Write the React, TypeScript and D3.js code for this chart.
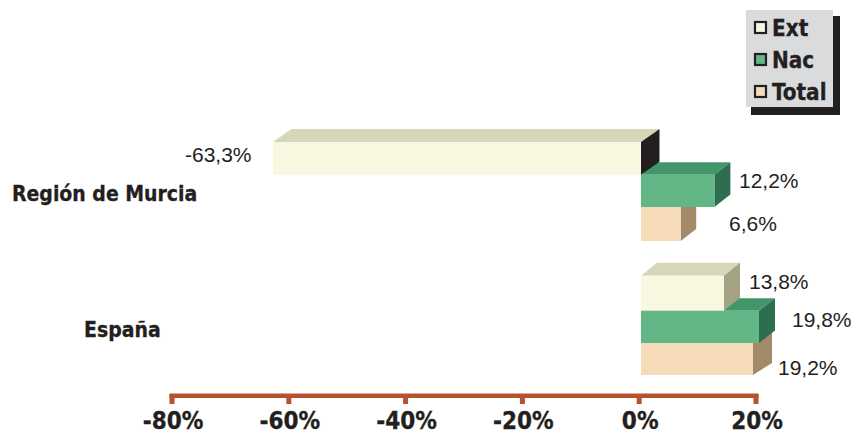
import React from "react";
import * as d3 from "d3";

const regions = ["Región de Murcia", "España"];
const seriesNames = ["Ext", "Nac", "Total"];
const extValues = [-63.3, 13.8];
const nacValues = [12.2, 19.8];
const totalValues = [6.6, 19.2];
const valueLabels = [
  ["-63,3%", "13,8%"],
  ["12,2%", "19,8%"],
  ["6,6%", "19,2%"],
];
const axisTicks = [-80, -60, -40, -20, 0, 20];

const frontColors = ["#f8f7e0", "#63b685", "#f5dbb8"];
const topColors = ["#d6d6b8", "#43966a", "#d6c0a0"];
const sideColors = ["#a3a384", "#2e6e50", "#a38a68"];
const darkSide = "#231f20";
const axisColor = "#b5532f";
const textColor = "#231f20";
const boldFont = "'DejaVu Sans', Verdana, sans-serif";
const labelFont = "'Liberation Sans', Arial, sans-serif";

const axisX = d3.scaleLinear().domain([-80, 20]).range([172, 756]);
const barX = d3.scaleLinear().domain([-63.3, 0, 13.8, 19.2, 19.8]).range([273, 641, 724, 753, 759]);
const seriesValues = [extValues, nacValues, totalValues];

// band edges [region][edge]
const bandEdges = [
  [142, 174.7, 207, 241],
  [275.7, 310.7, 343, 375],
];
// depth of the 3D faces [series][region]
const depthXs = [[18.5, 16], [16, 16], [15.5, 19]];
const depthYs = [[13, 13], [12.5, 12.5], [12, 12]];

const labelPos = [
  [[185, 162], [749, 289]],
  [[739, 188], [792, 327]],
  [[729, 231], [778, 375]],
];
const regionLabelPos = [[12, 201], [84, 337]];

export default function App() {
  const drawOrder = [2, 1, 0];
  const pts = (p: number[][]) => p.map((q) => q.join(",")).join(" ");
  return (
    <svg width={852} height={435} style={{ position: "absolute", left: 0, top: 0, background: "#fff" }}>
      {/* bars */}
      {regions.map((_, r) =>
        drawOrder.map((s) => {
          const v = seriesValues[s][r];
          const x0 = barX(Math.min(v, 0));
          const x1 = barX(Math.max(v, 0));
          const y0 = bandEdges[r][s];
          const y1 = bandEdges[r][s + 1];
          const dx = depthXs[s][r];
          const dy = depthYs[s][r];
          return (
            <g key={`${r}-${s}`}>
              <polygon
                points={pts([[x0, y0], [x0 + dx, y0 - dy], [x1 + dx, y0 - dy], [x1, y0]])}
                fill={topColors[s]}
              />
              <polygon
                points={pts([[x1, y0], [x1 + dx, y0 - dy], [x1 + dx, y1 - dy], [x1, y1]])}
                fill={v < 0 ? darkSide : sideColors[s]}
              />
              <rect x={x0} y={y0} width={x1 - x0} height={y1 - y0} fill={frontColors[s]} />
            </g>
          );
        })
      )}

      {/* value labels */}
      {valueLabels.map((row, s) =>
        row.map((t, r) => (
          <text key={`${s}-${r}`} x={labelPos[s][r][0]} y={labelPos[s][r][1]} fontFamily={labelFont} fontSize={21} fill={textColor}>
            {t}
          </text>
        ))
      )}

      {/* region labels */}
      {regions.map((t, r) => (
        <text key={t} x={regionLabelPos[r][0]} y={regionLabelPos[r][1]} fontFamily={boldFont} fontWeight="bold" fontStretch="condensed" fontSize={21} stroke={textColor} strokeWidth={0.3} fill={textColor}>
          {t}
        </text>
      ))}

      {/* axis */}
      <line x1={axisX(-80) - 2.5} x2={axisX(20) + 2.5} y1={395.7} y2={395.7} stroke={axisColor} strokeWidth={4.6} />
      {axisTicks.map((t) => (
        <g key={t}>
          <line x1={axisX(t)} x2={axisX(t)} y1={394} y2={404} stroke={axisColor} strokeWidth={5} />
          <text x={axisX(t) + 1} y={429.2} textAnchor="middle" fontFamily={boldFont} fontWeight="bold" fontStretch="condensed" fontSize={24} stroke={textColor} strokeWidth={0.3} fill={textColor}>
            {`${t}%`}
          </text>
        </g>
      ))}

      {/* legend */}
      <rect x={751} y={16} width={89} height={99} fill={darkSide} />
      <rect x={746} y={10} width={87} height={97} fill="#dadbdd" />
      {seriesNames.map((n, i) => (
        <g key={n}>
          <rect x={755} y={22 + i * 32} width={11} height={11} fill={frontColors[i]} stroke={darkSide} strokeWidth={2.2} />
          <text x={772} y={35.5 + i * 32} fontFamily={boldFont} fontWeight="bold" fontStretch="condensed" fontSize={22.3} stroke={textColor} strokeWidth={0.3} fill={textColor}>
            {n}
          </text>
        </g>
      ))}
    </svg>
  );
}
